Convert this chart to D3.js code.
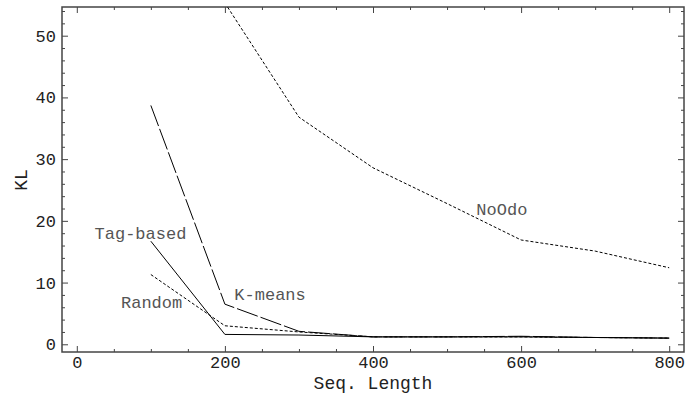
<!DOCTYPE html>
<html>
<head>
<meta charset="utf-8">
<script src="https://cdn.jsdelivr.net/npm/d3@7"></script>
<style>
  body { margin: 0; background: #fff; }
  text { font-family: "Liberation Mono", "DejaVu Sans Mono", monospace; }
</style>
</head>
<body>
<div id="chart"></div>
<script>
// Seq. length vs KL, four methods

const seqLength = [100, 200, 300, 400, 500, 600, 700, 800];
const tagBased = [16.7, 1.6, 1.5, 1.2, 1.2, 1.2, 1.1, 1.0];
const kMeans = [38.7, 6.5, 2.1, 1.2, 1.2, 1.3, 1.1, 1.0];
const random = [11.3, 3.0, 2.0, 1.2, 1.2, 1.2, 1.1, 1.0];
const noOdoX = [200, 300, 400, 500, 600, 700, 800];
const noOdo = [55.3, 36.8, 28.6, 22.8, 16.9, 15.1, 12.4];

const xMajor = [0, 200, 400, 600, 800];
const yMajor = [0, 10, 20, 30, 40, 50];

const W = 688, H = 394;
const margin = { top: 7, right: 4, bottom: 42, left: 62 };
const width = W - margin.left - margin.right;
const height = H - margin.top - margin.bottom;

const svg = d3.select("#chart")
  .append("svg")
  .attr("width", W)
  .attr("height", H);

const g = svg.append("g")
  .attr("transform", `translate(${margin.left},${margin.top})`);

const x = d3.scaleLinear().domain([-20, 820]).range([0, width]);
const y = d3.scaleLinear().domain([-1.25, 54.65]).range([height, 0]);

const xMinor = d3.range(0, 801, 50).filter((v) => v % 200 !== 0);
const yMinor = d3.range(0, 55, 2).filter((v) => v % 10 !== 0);

const frameColor = "#444";

// axes, ticks pointing inward on all four sides
const styleAxis = (sel) => {
  sel.select(".domain").remove();
  sel.selectAll("line").attr("stroke", frameColor).attr("stroke-width", 1);
  sel.selectAll("text")
    .attr("fill", "#222")
    .style("font-size", "17px");
};

g.append("g")
  .attr("transform", `translate(0,${height})`)
  .call(d3.axisBottom(x).tickValues(xMajor).tickSize(-6).tickPadding(4).tickFormat(d3.format("d")))
  .call(styleAxis);
g.append("g")
  .attr("transform", `translate(0,${height})`)
  .call(d3.axisBottom(x).tickValues(xMinor).tickSize(-3).tickFormat(""))
  .call(styleAxis);
g.append("g")
  .call(d3.axisTop(x).tickValues(xMajor).tickSize(-6).tickFormat(""))
  .call(styleAxis);
g.append("g")
  .call(d3.axisTop(x).tickValues(xMinor).tickSize(-3).tickFormat(""))
  .call(styleAxis);

g.append("g")
  .call(d3.axisLeft(y).tickValues(yMajor).tickSize(-6).tickPadding(6).tickFormat(d3.format("d")))
  .call(styleAxis);
g.append("g")
  .call(d3.axisLeft(y).tickValues(yMinor).tickSize(-3).tickFormat(""))
  .call(styleAxis);
g.append("g")
  .attr("transform", `translate(${width},0)`)
  .call(d3.axisRight(y).tickValues(yMajor).tickSize(-6).tickFormat(""))
  .call(styleAxis);
g.append("g")
  .attr("transform", `translate(${width},0)`)
  .call(d3.axisRight(y).tickValues(yMinor).tickSize(-3).tickFormat(""))
  .call(styleAxis);

g.append("rect")
  .attr("width", width)
  .attr("height", height)
  .attr("fill", "none")
  .attr("stroke", frameColor)
  .attr("stroke-width", 1.5);

// clip for lines running out the top
g.append("clipPath").attr("id", "plot-clip")
  .append("rect").attr("width", width).attr("height", height);

const line = d3.line().x((d) => x(d[0])).y((d) => y(d[1]));

const series = [
  { xs: seqLength, ys: tagBased, dash: null },
  { xs: seqLength, ys: kMeans, dash: "22,3" },
  { xs: seqLength, ys: random, dash: "3,2" },
  { xs: noOdoX, ys: noOdo, dash: "3,2" },
];

g.append("g")
  .attr("clip-path", "url(#plot-clip)")
  .selectAll("path")
  .data(series)
  .join("path")
  .attr("d", (s) => line(s.xs.map((v, i) => [v, s.ys[i]])))
  .attr("fill", "none")
  .attr("stroke", "#000")
  .attr("stroke-width", 1)
  .attr("stroke-dasharray", (s) => s.dash);

// in-plot labels (positions in data units)
const labels = [
  { text: "Tag-based", x: 86, y: 18.1 },
  { text: "Random", x: 101, y: 6.9 },
  { text: "K-means", x: 261, y: 8.1 },
  { text: "NoOdo", x: 574, y: 21.9 },
];

g.selectAll(".lbl")
  .data(labels)
  .join("text")
  .attr("class", "lbl")
  .attr("x", (d) => x(d.x))
  .attr("y", (d) => y(d.y))
  .attr("dy", "0.35em")
  .attr("text-anchor", "middle")
  .attr("fill", "#555")
  .style("font-size", "17px")
  .text((d) => d.text);

// axis titles
svg.append("text")
  .attr("x", margin.left + x(400))
  .attr("y", 388.5)
  .attr("text-anchor", "middle")
  .attr("fill", "#222")
  .style("font-size", "18px")
  .text("Seq. Length");

svg.append("text")
  .attr("transform", "translate(27,180) rotate(-90)")
  .attr("text-anchor", "middle")
  .attr("fill", "#222")
  .style("font-size", "18px")
  .text("KL");
</script>
</body>
</html>
